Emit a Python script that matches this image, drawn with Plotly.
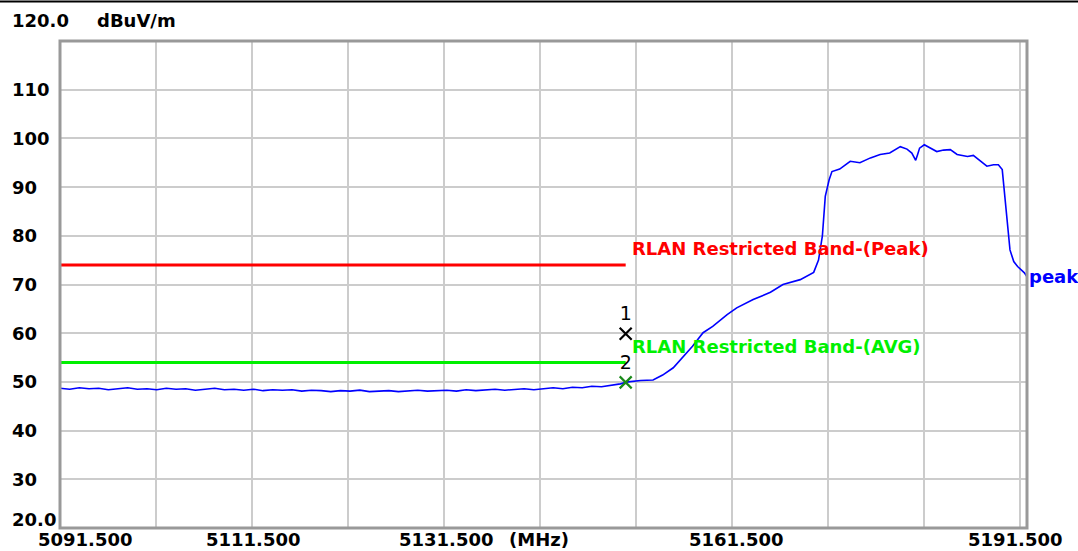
import plotly.graph_objects as go

# ---- data ----
freq_mhz = [5091.5, 5092.5, 5093.5, 5094.5, 5095.5, 5096.5, 5097.5, 5098.5, 5099.5, 5100.5,
            5101.5, 5102.5, 5103.5, 5104.5, 5105.5, 5106.5, 5107.5, 5108.5, 5109.5, 5110.5,
            5111.5, 5112.5, 5113.5, 5114.5, 5115.5, 5116.5, 5117.5, 5118.5, 5119.5, 5120.5,
            5121.5, 5122.5, 5123.5, 5124.5, 5125.5, 5126.5, 5127.5, 5128.5, 5129.5, 5130.5,
            5131.5, 5132.5, 5133.5, 5134.5, 5135.5, 5136.5, 5137.5, 5138.5, 5139.5, 5140.5,
            5141.5, 5142.5, 5143.5, 5144.5, 5145.5, 5146.5, 5147.5, 5148.5, 5149.45, 5150.24,
            5151.54, 5152.83, 5153.82, 5154.92, 5155.91, 5156.91, 5158.0, 5159.0, 5160.49, 5161.48,
            5163.18, 5164.97, 5166.26, 5168.05, 5169.44, 5169.94, 5170.34, 5170.64, 5171.04, 5171.33,
            5172.13, 5173.22, 5174.22, 5175.31, 5176.31, 5177.30, 5178.40, 5179.09, 5179.59, 5179.99,
            5180.19, 5180.39, 5180.88, 5181.48, 5182.17, 5182.87, 5183.57, 5184.27, 5185.35, 5185.95,
            5186.75, 5187.35, 5188.04, 5188.54, 5188.94, 5189.14, 5189.44, 5189.54, 5189.74, 5190.13,
            5190.53, 5191.23, 5191.5]
peak_dbuv = [48.7, 48.5, 48.8, 48.6, 48.7, 48.4, 48.6, 48.8, 48.5, 48.6,
             48.4, 48.7, 48.5, 48.6, 48.3, 48.5, 48.7, 48.4, 48.5, 48.3,
             48.5, 48.2, 48.4, 48.3, 48.4, 48.1, 48.3, 48.2, 48.0, 48.2,
             48.1, 48.3, 48.0, 48.1, 48.2, 48.0, 48.1, 48.3, 48.1, 48.2,
             48.3, 48.1, 48.4, 48.2, 48.3, 48.5, 48.3, 48.4, 48.6, 48.4,
             48.6, 48.8, 48.6, 48.9, 48.8, 49.1, 49.0, 49.3, 49.6, 50.0,
             50.3, 50.4, 51.4, 52.9, 55.2, 57.3, 60.1, 61.4, 63.8, 65.2,
             66.9, 68.4, 70.0, 71.0, 72.5, 75.0, 80.0, 88.1, 91.5, 93.2,
             93.7, 95.3, 95.0, 96.0, 96.7, 97.0, 98.3, 97.8, 97.0, 95.5,
             96.7, 98.0, 98.7, 98.0, 97.3, 97.6, 97.7, 96.7, 96.3, 96.5,
             95.3, 94.3, 94.6, 94.6, 93.6, 89.5, 84.7, 81.3, 77.1, 74.7,
             73.7, 72.4, 71.6]

limit_freq = [5091.5, 5150.0]
limit_peak = [74.0, 74.0]
limit_avg = [54.0, 54.0]
limit_peak_label = "RLAN Restricted Band-(Peak)"
limit_avg_label = "RLAN Restricted Band-(AVG)"

marker_freq = [5150.0, 5150.0]
marker_level = [59.9, 49.9]
marker_names = ["1", "2"]

y_grid = [30, 40, 50, 60, 70, 80, 90, 100, 110]
y_tick_vals = [120, 110, 100, 90, 80, 70, 60, 50, 40, 30, 20]
y_tick_text = ["120.0", "110", "100", "90", "80", "70", "60", "50", "40", "30", "20.0"]
x_tick_vals = [5091.5, 5111.5, 5131.5, 5161.5, 5191.5]
x_tick_text = ["5091.500", "5111.500", "5131.500", "5161.500", "5191.500"]

X0, X1 = 5091.5, 5191.5
PLOT_W = 967
# the analyser draws its vertical grid with a whole-pixel step (96 px)
x_grid = [X0 + (X1 - X0) * (96 * k) / PLOT_W for k in range(11)]

FONT = "DejaVu Sans"
SIZE = 18
fnt = dict(family=FONT, size=SIZE, color="black", weight="bold")
GREEN = "#00f000"

fig = go.Figure()
fig.add_trace(go.Scatter(x=limit_freq, y=limit_peak, mode="lines",
                         line=dict(color="#ff0000", width=3), hoverinfo="skip"))
fig.add_trace(go.Scatter(x=limit_freq, y=limit_avg, mode="lines",
                         line=dict(color=GREEN, width=3), hoverinfo="skip"))
fig.add_trace(go.Scatter(x=freq_mhz, y=peak_dbuv, mode="lines",
                         line=dict(color="#0000ff", width=1.6)))
fig.add_trace(go.Scatter(x=marker_freq, y=marker_level, mode="markers+text",
                         marker=dict(symbol="x-thin", size=12,
                                     line=dict(width=2.2, color=["black", "#1a8a1a"])),
                         text=marker_names, textposition="top center",
                         textfont=dict(family=FONT, size=19, color="black"),
                         cliponaxis=False))

ann = []
for v, t in zip(y_tick_vals, y_tick_text):
    ys = 0
    if t == "120.0":
        ys = 21
    elif t == "20.0":
        ys = 9
    ann.append(dict(x=-50 / PLOT_W, xref="paper", y=v, yref="y", text=t, showarrow=False,
                    xanchor="left", yanchor="middle", yshift=ys, font=fnt))
for i, (v, t) in enumerate(zip(x_tick_vals, x_tick_text)):
    xs = 0
    if i == 0:
        xs = 25
    elif i == len(x_tick_vals) - 1:
        xs = -12
    ann.append(dict(x=v, xref="x", y=0, yref="paper", text=t, showarrow=False,
                    xanchor="center", yanchor="top", xshift=xs, yshift=1, font=fnt))
ann.append(dict(x=x_tick_vals[2], xref="x", y=0, yref="paper", text="(MHz)", showarrow=False,
                xanchor="left", yanchor="top", xshift=60, yshift=1, font=fnt))
ann.append(dict(x=0, xref="paper", y=120, yref="y", text="dBuV/m", showarrow=False,
                xanchor="left", yanchor="middle", xshift=35, yshift=21, font=fnt))
ann.append(dict(x=limit_freq[1], xref="x", y=limit_peak[0], yref="y", text=limit_peak_label,
                showarrow=False, xanchor="left", yanchor="middle", xshift=4, yshift=17,
                font=dict(family=FONT, size=SIZE, color="#ff0000", weight="bold")))
ann.append(dict(x=limit_freq[1], xref="x", y=limit_avg[0], yref="y", text=limit_avg_label,
                showarrow=False, xanchor="left", yanchor="middle", xshift=4, yshift=16,
                font=dict(family=FONT, size=SIZE, color=GREEN, weight="bold")))
ann.append(dict(x=1, xref="paper", y=peak_dbuv[-1], yref="y", text="peak",
                showarrow=False, xanchor="left", yanchor="middle", xshift=0,
                font=dict(family=FONT, size=SIZE, color="#0000ff", weight="bold")))

shapes = [
    dict(type="rect", xref="paper", yref="paper", x0=0, x1=1, y0=0, y1=1,
         line=dict(color="#999999", width=3), layer="above"),
    dict(type="line", xref="paper", yref="paper", x0=-60 / PLOT_W, x1=1 + 51 / PLOT_W,
         y0=1 + 39.5 / 487, y1=1 + 39.5 / 487, line=dict(color="black", width=2)),
]

fig.update_layout(
    width=1078, height=551,
    margin=dict(l=60, r=51, t=41, b=23),
    paper_bgcolor="white", plot_bgcolor="white",
    showlegend=False,
    annotations=ann, shapes=shapes,
    xaxis=dict(range=[X0, X1], tickvals=x_grid, showticklabels=False,
               showgrid=True, gridcolor="#cccccc", gridwidth=2, zeroline=False,
               ticks="", fixedrange=True),
    yaxis=dict(range=[20, 120], tickvals=y_grid, showticklabels=False,
               showgrid=True, gridcolor="#cccccc", gridwidth=2, zeroline=False,
               ticks="", fixedrange=True),
)

fig.write_html("out.html", config={"displayModeBar": False})

# remove the default page margin so the figure sits at the window's top-left corner
with open("out.html", "r", encoding="utf-8") as fh:
    html = fh.read()
html = html.replace("<head>", "<head><style>html,body{margin:0;padding:0;overflow:hidden;}</style>", 1)
with open("out.html", "w", encoding="utf-8") as fh:
    fh.write(html)
